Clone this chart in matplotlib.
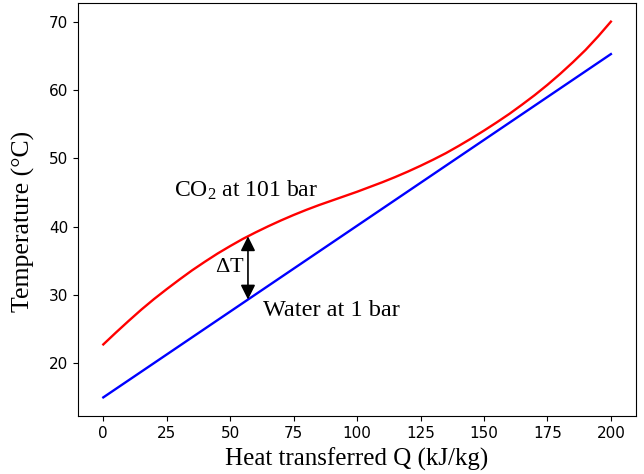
import numpy as np
import matplotlib.pyplot as plt

plt.rcParams['mathtext.fontset'] = 'custom'
plt.rcParams['mathtext.rm'] = 'Liberation Serif'
plt.rcParams['mathtext.it'] = 'Liberation Serif:italic'

serif = 'Liberation Serif'

# heat transferred (kJ/kg)
q = [0, 5, 10, 15, 20, 25, 30, 35, 40, 45, 50, 55, 60, 65, 70, 75, 80, 85,
     90, 95, 100, 105, 110, 115, 120, 125, 130, 135, 140, 145, 150, 155,
     160, 165, 170, 175, 180, 185, 190, 195, 200]
# CO2 at 101 bar temperature (C)
t_co2 = [22.75, 24.5, 26.2, 27.85, 29.4, 30.85, 32.25, 33.6, 34.85, 36.05,
         37.15, 38.2, 39.15, 40.05, 40.9, 41.7, 42.45, 43.15, 43.8, 44.45,
         45.1, 45.8, 46.5, 47.25, 48.05, 48.9, 49.8, 50.75, 51.8, 52.9,
         54.05, 55.25, 56.5, 57.85, 59.25, 60.75, 62.35, 64.05, 65.85,
         67.85, 70.0]
# water at 1 bar: inlet and outlet
q_w = [0, 200]
t_w = [15.0, 65.25]

q_dt = 57  # where the pinch arrow sits

fig, ax = plt.subplots(figsize=(6.44, 4.74), dpi=100)
ax.plot(q, t_co2, color='red', lw=1.7)
ax.plot(q_w, t_w, color='blue', lw=1.7)

t_lo = np.interp(q_dt, q_w, t_w)
t_hi = np.interp(q_dt, q, t_co2)
ax.annotate('', xy=(q_dt, t_lo), xytext=(q_dt, t_hi),
            arrowprops=dict(arrowstyle='<|-|>', color='black', lw=1.2,
                            mutation_scale=22, shrinkA=0, shrinkB=0))
ax.text(q_dt - 1.5, (t_lo + t_hi) / 2, r'$\Delta$T', family=serif,
        fontsize=16, ha='right', va='center')
ax.text(28, 45.3, r'CO$_2$ at 101 bar', family=serif, fontsize=17,
        ha='left', va='center')
ax.text(63, 27.7, 'Water at 1 bar', family=serif, fontsize=17.5,
        ha='left', va='center')

ax.set_xlabel('Heat transferred Q (kJ/kg)', family=serif, fontsize=18,
              labelpad=5)
ax.set_ylabel('Temperature (°C)', family=serif, fontsize=18.5)
ax.yaxis.set_label_coords(-0.077, 0.472)
ax.set_xticks(np.arange(0, 201, 25))
ax.set_yticks(np.arange(20, 71, 10))
ax.tick_params(labelsize=11)

fig.subplots_adjust(left=0.121, right=0.988, top=0.994, bottom=0.122)
fig.savefig('out.png', dpi=100)
